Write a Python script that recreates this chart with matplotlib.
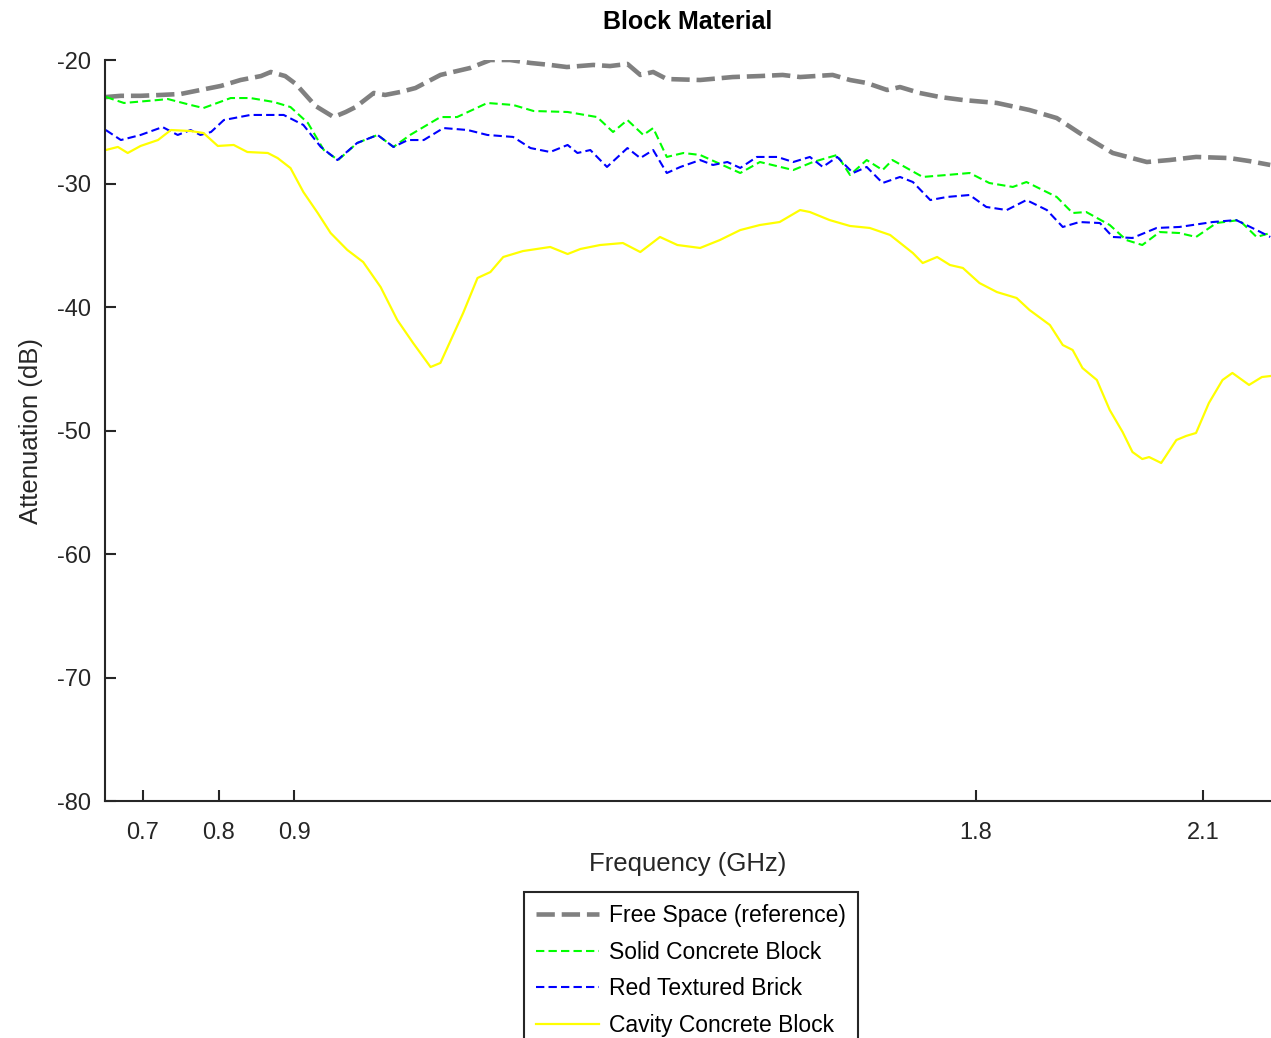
import matplotlib
matplotlib.use("Agg")
import matplotlib.pyplot as plt
import numpy as np

plt.rcParams['font.family'] = ['Liberation Sans', 'DejaVu Sans']

# ---------------- data ----------------
free_f = [0.651, 0.671, 0.697, 0.724, 0.750, 0.776, 0.803, 0.829, 0.856, 0.869, 0.888, 0.902,
          0.915, 0.928, 0.952, 0.968, 0.981, 1.005, 1.020, 1.040, 1.060, 1.093, 1.132, 1.159,
          1.185, 1.212, 1.238, 1.260, 1.295, 1.317, 1.340, 1.357, 1.374, 1.392, 1.436, 1.479,
          1.515, 1.545, 1.568, 1.611, 1.634, 1.656, 1.683, 1.700, 1.726, 1.753, 1.783, 1.828,
          1.871, 1.907, 1.937, 1.981, 2.026, 2.056, 2.091, 2.135, 2.161, 2.189]
free_db = [-23.0, -22.9, -22.9, -22.83, -22.75, -22.43, -22.10, -21.62, -21.30, -20.97, -21.30, -21.94,
           -22.83, -23.72, -24.62, -24.21, -23.81, -22.67, -22.83, -22.59, -22.27, -21.21, -20.65, -20.0,
           -20.0, -20.24, -20.40, -20.57, -20.40, -20.49, -20.32, -21.21, -20.97, -21.54, -21.62, -21.38,
           -21.30, -21.21, -21.38, -21.21, -21.62, -21.86, -22.43, -22.19, -22.67, -23.0, -23.24, -23.48,
           -24.05, -24.70, -25.91, -27.53, -28.26, -28.10, -27.85, -27.94, -28.18, -28.50]

solid_f = [0.651, 0.675, 0.720, 0.733, 0.763, 0.780, 0.816, 0.842, 0.873, 0.895, 0.918, 0.939,
           0.958, 0.983, 1.010, 1.031, 1.053, 1.093, 1.115, 1.155, 1.189, 1.216, 1.261, 1.300,
           1.321, 1.340, 1.361, 1.374, 1.392, 1.414, 1.436, 1.489, 1.515, 1.559, 1.585, 1.617,
           1.634, 1.656, 1.677, 1.690, 1.730, 1.762, 1.792, 1.818, 1.849, 1.867, 1.907, 1.928,
           1.946, 1.977, 1.999, 2.020, 2.043, 2.069, 2.091, 2.118, 2.148, 2.171, 2.189]
solid_db = [-22.99, -23.48, -23.24, -23.16, -23.64, -23.89, -23.08, -23.08, -23.40, -23.81, -25.10, -27.29,
            -28.10, -26.72, -26.07, -27.04, -26.07, -24.62, -24.62, -23.48, -23.64, -24.13, -24.21, -24.62,
            -25.83, -24.86, -26.07, -25.51, -27.85, -27.53, -27.69, -29.15, -28.26, -28.91, -28.26, -27.69,
            -29.31, -28.10, -28.91, -28.10, -29.47, -29.31, -29.15, -29.96, -30.28, -29.88, -31.09, -32.39,
            -32.31, -33.36, -34.58, -34.98, -33.93, -34.01, -34.33, -33.20, -32.96, -34.33, -34.01]

brick_f = [0.651, 0.671, 0.697, 0.726, 0.746, 0.763, 0.776, 0.790, 0.807, 0.842, 0.886, 0.912,
           0.935, 0.957, 0.983, 1.010, 1.031, 1.050, 1.071, 1.097, 1.129, 1.155, 1.189, 1.212,
           1.238, 1.261, 1.274, 1.291, 1.313, 1.340, 1.357, 1.374, 1.392, 1.410, 1.436, 1.453,
           1.472, 1.489, 1.511, 1.538, 1.559, 1.581, 1.598, 1.617, 1.638, 1.656, 1.677, 1.700,
           1.717, 1.740, 1.762, 1.792, 1.814, 1.841, 1.867, 1.894, 1.915, 1.937, 1.964, 1.981,
           2.007, 2.039, 2.069, 2.113, 2.144, 2.171, 2.189]
brick_db = [-25.67, -26.48, -26.07, -25.43, -26.07, -25.67, -26.07, -25.83, -24.86, -24.45, -24.45, -25.26,
            -27.04, -28.10, -26.72, -26.07, -27.04, -26.48, -26.48, -25.51, -25.67, -26.07, -26.23, -27.13,
            -27.45, -26.88, -27.53, -27.29, -28.66, -27.13, -27.94, -27.29, -29.15, -28.66, -28.10, -28.50,
            -28.26, -28.74, -27.85, -27.85, -28.26, -27.85, -28.66, -27.85, -29.15, -28.66, -29.96, -29.47,
            -29.88, -31.34, -31.09, -30.93, -31.90, -32.15, -31.34, -32.15, -33.52, -33.12, -33.20, -34.33,
            -34.41, -33.60, -33.52, -33.12, -32.96, -33.77, -34.33]

cavity_f = [0.651, 0.667, 0.680, 0.697, 0.720, 0.737, 0.763, 0.780, 0.799, 0.820, 0.838, 0.865,
            0.878, 0.895, 0.912, 0.931, 0.948, 0.970, 0.991, 1.014, 1.036, 1.057, 1.080, 1.093,
            1.123, 1.142, 1.159, 1.176, 1.202, 1.238, 1.261, 1.278, 1.304, 1.334, 1.357, 1.383,
            1.406, 1.436, 1.462, 1.489, 1.515, 1.541, 1.568, 1.581, 1.607, 1.634, 1.660, 1.687,
            1.717, 1.730, 1.749, 1.766, 1.783, 1.805, 1.828, 1.854, 1.871, 1.898, 1.915, 1.928,
            1.941, 1.960, 1.977, 1.994, 2.007, 2.020, 2.029, 2.045, 2.065, 2.078, 2.091, 2.108,
            2.126, 2.139, 2.161, 2.178, 2.189]
cavity_db = [-27.29, -27.04, -27.53, -26.96, -26.48, -25.67, -25.75, -25.91, -26.96, -26.88, -27.45, -27.53,
             -27.94, -28.75, -30.69, -32.39, -34.01, -35.38, -36.36, -38.38, -41.05, -42.92, -44.86, -44.53,
             -40.49, -37.65, -37.17, -35.95, -35.47, -35.14, -35.71, -35.30, -34.98, -34.82, -35.55, -34.33,
             -34.98, -35.22, -34.58, -33.77, -33.36, -33.12, -32.15, -32.31, -32.96, -33.44, -33.60, -34.17,
             -35.63, -36.44, -35.95, -36.60, -36.84, -38.06, -38.79, -39.27, -40.24, -41.46, -43.08, -43.48,
             -44.94, -45.91, -48.34, -50.12, -51.74, -52.31, -52.15, -52.63, -50.77, -50.44, -50.20, -47.77,
             -45.91, -45.34, -46.31, -45.67, -45.59]

labels = ["Free Space (reference)", "Solid Concrete Block", "Red Textured Brick", "Cavity Concrete Block"]
x_ticks = [0.7, 0.8, 0.9, 1.8, 2.1]
y_ticks = [-20, -30, -40, -50, -60, -70, -80]

# ---------------- plot ----------------
W, H = 1271, 1038
fig = plt.figure(figsize=(W / 100, H / 100), dpi=100)
ax = fig.add_axes([105 / W, 1 - 801 / H, (1271 - 105) / W, (801 - 60) / H])

dark = '#262626'
ax.plot(free_f, free_db, color='#808080', linewidth=3.3, linestyle=(0, (4, 1.5)), label=labels[0])
ax.plot(solid_f, solid_db, color='#00ff00', linewidth=1.5, linestyle=(0, (4, 2)), label=labels[1])
ax.plot(brick_f, brick_db, color='#0000ff', linewidth=1.5, linestyle=(0, (4, 2)), label=labels[2])
ax.plot(cavity_f, cavity_db, color='#ffff00', linewidth=1.6, linestyle='-', label=labels[3])

ax.set_xlim(0.65, 2.19)
ax.set_ylim(-80, -20)
ax.set_xticks(x_ticks)
ax.set_xticklabels([f"{t:g}" for t in x_ticks])
ax.set_yticks(y_ticks)
ax.set_yticklabels([f"{t:g}" for t in y_ticks])

for s in ['top', 'right']:
    ax.spines[s].set_visible(False)
for s in ['left', 'bottom']:
    ax.spines[s].set_color(dark)
    ax.spines[s].set_linewidth(1.5)

ax.tick_params(axis='both', direction='in', length=8, width=1.5, color=dark,
               labelcolor=dark, labelsize=17)
ax.tick_params(axis='x', pad=15)
ax.tick_params(axis='y', pad=10)

ax.set_title("Block Material", fontsize=18, fontweight='bold', color='black', pad=22)
ax.set_xlabel("Frequency (GHz)", fontsize=18.5, color=dark, labelpad=6)
ax.set_ylabel("Attenuation (dB)", fontsize=18.5, color=dark, labelpad=10)

leg = fig.legend(loc='upper center', bbox_to_anchor=(691 / W, 1 - 892 / H),
                 fontsize=16.5, frameon=True, fancybox=False, framealpha=1,
                 edgecolor=dark, handlelength=2.75, handletextpad=0.45,
                 labelspacing=0.6, borderpad=0.52, borderaxespad=0)
leg.get_frame().set_linewidth(1.5)

fig.savefig("out.png", dpi=100)
